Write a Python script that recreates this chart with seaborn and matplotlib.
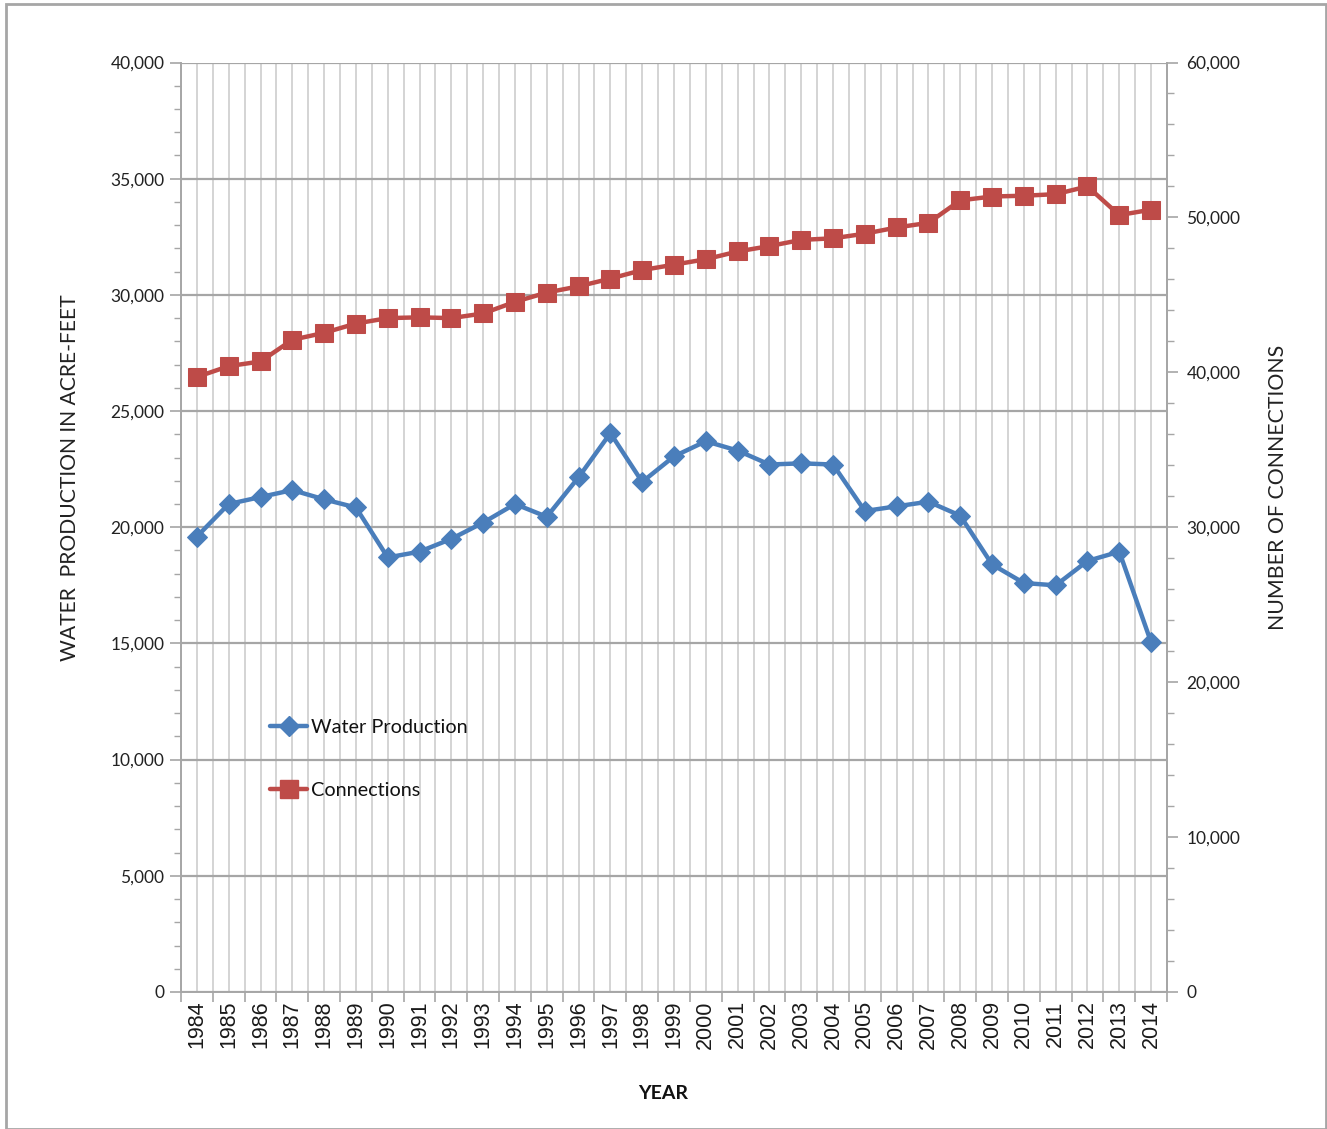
import matplotlib
matplotlib.use("Agg")
import matplotlib.pyplot as plt
import matplotlib.ticker as mticker
from matplotlib.patches import Rectangle
from matplotlib.lines import Line2D
import numpy as np
import pandas as pd
import seaborn as sns

# 数据
years = list(range(1984, 2015))
year_labels = [str(y) for y in years]
water_production = [19600, 21000, 21300, 21600, 21200, 20850, 18700, 18950, 19500, 20200,
                    21000, 20450, 22150, 24050, 21950, 23050, 23700, 23300, 22700, 22750,
                    22700, 20700, 20900, 21100, 20500, 18400, 17600, 17500, 18550, 18950,
                    15050]
connections = [39700, 40400, 40700, 42100, 42550, 43150, 43500, 43550, 43500, 43800,
               44550, 45150, 45550, 46050, 46600, 46950, 47300, 47800, 48150, 48550,
               48650, 48950, 49350, 49650, 51100, 51350, 51400, 51500, 52000, 50150,
               50500]

df = pd.DataFrame({"year": years, "water": water_production, "conn": connections})

sns.set_theme(style="white")
plt.rcParams['font.family'] = ['Lato', 'DejaVu Sans']

blue = "#4A7EBB"
red = "#BE4B48"
grid_major = "#a6a6a6"
grid_minor = "#d4d4d4"

fig = plt.figure(figsize=(13.27, 11.29), dpi=100)
ax = fig.add_axes([181/1327, 1-992/1129, 986/1327, (992-62.5)/1129])
ax2 = ax.twinx()

# 左轴 water production
sns.lineplot(data=df, x="year", y="water", ax=ax, color=blue, lw=3.2,
             marker="D", markersize=10, markeredgecolor=blue, zorder=5, legend=False)
# 右轴 connections
sns.lineplot(data=df, x="year", y="conn", ax=ax2, color=red, lw=3.2,
             marker="s", markersize=13, markeredgecolor=red, zorder=5, legend=False)

ax.set_xlim(years[0]-0.5, years[-1]+0.5)
ax.set_ylim(0, 40000)
ax2.set_ylim(0, 60000)

# x ticks: boundaries get the tick marks, centers get the labels
ax.set_xticks(np.arange(years[0]-0.5, years[-1]+1, 1.0))
ax.xaxis.set_major_formatter(mticker.NullFormatter())
ax.set_xticks(years, labels=year_labels, minor=True)
ax.tick_params(axis="x", which="major", direction="out", length=7, width=1.2, color=grid_major, bottom=True)
ax.tick_params(axis="x", which="minor", length=0, pad=6, bottom=True, labelsize=15.5,
               labelrotation=90, labelcolor="#1a1a1a")

ax.yaxis.set_major_locator(mticker.MultipleLocator(5000))
ax.yaxis.set_minor_locator(mticker.MultipleLocator(1000))
ax.yaxis.set_major_formatter(mticker.FuncFormatter(lambda v, p: f"{int(v):,}"))
ax.tick_params(axis="y", which="major", direction="out", length=8, width=1.2, color=grid_major,
               labelsize=12.5, labelcolor="#222222", pad=4, left=True)
ax.tick_params(axis="y", which="minor", direction="out", length=5, width=1.0, color=grid_major, left=True)

ax2.yaxis.set_major_locator(mticker.MultipleLocator(10000))
ax2.yaxis.set_minor_locator(mticker.MultipleLocator(2000))
ax2.yaxis.set_major_formatter(mticker.FuncFormatter(lambda v, p: f"{int(v):,}"))
ax2.tick_params(axis="y", which="major", direction="out", length=8, width=1.2, color=grid_major,
                labelsize=12.5, labelcolor="#222222", pad=6, right=True)
ax2.tick_params(axis="y", which="minor", direction="out", length=5, width=1.0, color=grid_major, right=True)

# 网格
ax.grid(False)
ax2.grid(False)
ax.yaxis.grid(True, which="major", color=grid_major, lw=1.6)
ax.xaxis.grid(True, which="major", color=grid_minor, lw=1.4)
ax.xaxis.grid(True, which="minor", color=grid_minor, lw=1.4)
ax.set_axisbelow(True)

for a in (ax, ax2):
    for side, sp in a.spines.items():
        sp.set_color(grid_major)
        sp.set_linewidth(1.4)
    a.spines["top"].set_visible(False)
ax2.spines["left"].set_visible(False)
ax2.spines["bottom"].set_visible(False)

ax.set_xlabel("YEAR", fontsize=14, fontweight="bold", color="#111111")
ax.xaxis.set_label_coords(0.489, -0.1)
ax.set_ylabel("WATER  PRODUCTION IN ACRE-FEET", fontsize=15.2, color="#222222")
ax.yaxis.set_label_coords(-0.1024, 0.553)
ax2.set_ylabel("NUMBER OF CONNECTIONS", fontsize=15.3, color="#222222")
ax2.yaxis.set_label_coords(1.1024, 0.543)

handles = [Line2D([], [], color=blue, lw=3.2, marker="D", markersize=10),
           Line2D([], [], color=red, lw=3.2, marker="s", markersize=13)]
leg = ax.legend(handles, ["Water Production", "Connections"], loc="upper left",
                bbox_to_anchor=(0.09, 0.294), frameon=False, fontsize=14.3,
                handlelength=1.9, handletextpad=0.2, labelspacing=2.35,
                borderpad=0, borderaxespad=0)
for t in leg.get_texts():
    t.set_color("#111111")

# 外框
fig.patches.append(Rectangle((6/1327, 0), 1320/1327, 1-4/1129, transform=fig.transFigure,
                             fill=False, edgecolor="#a6a6a6", lw=2))

# year labels in an Arial-like face
fig.canvas.draw()
for lab in ax.get_xticklabels(minor=True):
    lab.set_fontfamily(["Liberation Sans", "DejaVu Sans"])

fig.savefig("out.png", dpi=100)
